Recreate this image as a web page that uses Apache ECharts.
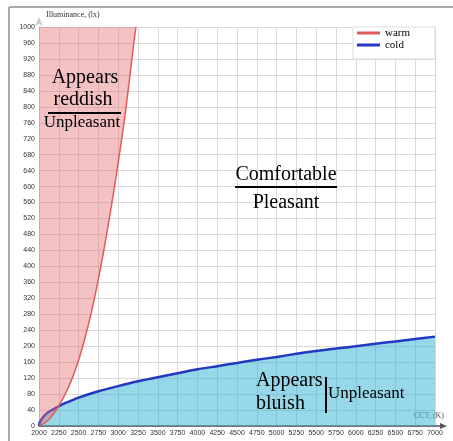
<!DOCTYPE html>
<html>
<head>
<meta charset="utf-8">
<script src="https://cdn.jsdelivr.net/npm/echarts@6/dist/echarts.min.js"></script>
<style>
html, body { margin: 0; padding: 0; background: #fff; }
#chart { width: 453px; height: 441px; }
</style>
</head>
<body>
<div id="chart"></div>
<script>
// values
var warmCct = [2000, 2100, 2200, 2300, 2400, 2500, 2600, 2700, 2800, 2900, 3000, 3100, 3200, 3225];
var warmLux = [0, 12, 35, 68, 110, 165, 235, 320, 420, 535, 660, 800, 965, 1000];

var coldCct = [2000, 2010, 2025, 2050, 2100, 2200, 2300, 2400, 2500, 2750, 3000, 3250, 3500, 3750, 4000,
    4250, 4500, 4750, 5000, 5250, 5500, 5750, 6000, 6250, 6500, 6750, 7000];
var coldLux = [0, 10, 14, 22, 32, 44, 55, 63, 71, 87, 100, 112, 122, 132, 142,
    150, 158, 166, 173, 181, 188, 194, 200, 206, 212, 218, 224];

var seriesNames = ['warm', 'cold'];

function pairs(xs, ys) {
    return xs.map(function (x, i) { return [x, ys[i]]; });
}

var chart = echarts.init(document.getElementById('chart'));
var serif = 'Liberation Serif';
// plain numbers, no thousands separator
var plain = function (v) { return String(v); };

// text labels on the chart
function label(x, y, text, size, align) {
    return {
        type: 'text', x: x, y: y, z: 100,
        style: { text: text, font: size + 'px ' + serif, fill: '#000', textAlign: align || 'center', textVerticalAlign: 'middle' }
    };
}
function rule(x1, y1, x2, y2, color, w) {
    return { type: 'line', z: 100, shape: { x1: x1, y1: y1, x2: x2, y2: y2 }, style: { stroke: color, lineWidth: w } };
}

var option = {
    animation: false,
    grid: { left: 39, right: 18, top: 27, bottom: 15 },
    legend: {
        data: seriesNames,
        orient: 'vertical',
        right: 18,
        top: 27,
        icon: 'rect',
        itemWidth: 23,
        itemHeight: 3,
        itemGap: 0,
        padding: [0, 25, 8, 4],
        backgroundColor: '#fff',
        borderColor: '#ddd',
        borderWidth: 1,
        borderRadius: 0,
        textStyle: { fontFamily: serif, fontSize: 11, color: '#000', lineHeight: 12 }
    },
    xAxis: {
        type: 'value',
        min: 2000,
        max: 7000,
        interval: 250,
        name: 'CCT, (K)',
        nameLocation: 'end',
        nameGap: 9,
        nameTextStyle: { fontFamily: serif, fontSize: 8, color: '#555', align: 'right', verticalAlign: 'bottom', padding: [0, 0, 6, 0] },
        axisLine: { show: true, lineStyle: { color: '#555', width: 1.5 } },
        axisTick: { show: false },
        axisLabel: { fontSize: 7, color: '#333', fontFamily: 'Liberation Sans', margin: 4, formatter: plain },
        splitLine: { show: true, lineStyle: { color: '#d9d9d9', width: 1 } }
    },
    yAxis: {
        type: 'value',
        min: 0,
        max: 1000,
        interval: 40,
        name: 'Illuminance, (lx)',
        nameLocation: 'end',
        nameGap: 12,
        nameTextStyle: { fontFamily: serif, fontSize: 8, color: '#333', align: 'left', verticalAlign: 'middle', padding: [0, 0, 0, 7] },
        axisLine: { show: true, symbol: ['none', 'arrow'], symbolSize: [6, 9], symbolOffset: [0, 10], lineStyle: { color: '#ccc', width: 1 } },
        axisTick: { show: false },
        axisLabel: { fontSize: 7, color: '#333', fontFamily: 'Liberation Sans', margin: 4, formatter: plain },
        splitLine: { show: true, lineStyle: { color: '#d9d9d9', width: 1 } }
    },
    series: [{
        name: 'warm',
        type: 'line',
        data: pairs(warmCct, warmLux),
        smooth: 0.3,
        showSymbol: false,
        color: '#e35a5a',
        lineStyle: { color: '#e35a5a', width: 1.5 },
        areaStyle: { origin: 'end', color: 'rgba(230,110,115,0.42)', opacity: 1 },
        z: 3
    }, {
        name: 'cold',
        type: 'line',
        data: pairs(coldCct, coldLux),
        smooth: 0.3,
        showSymbol: false,
        color: '#2238c0',
        lineStyle: { color: '#2238c0', width: 2.5 },
        areaStyle: { origin: 'start', color: 'rgba(45,178,212,0.5)', opacity: 1 },
        z: 2
    }],
    graphic: [
        // frame
        rule(9, 7, 453, 7, '#aaa', 2),
        rule(9, 7, 9, 441, '#aaa', 2),
        // x axis arrow extension
        rule(435, 426, 442, 426, '#555', 1.5),
        { type: 'polygon', z: 100, shape: { points: [[447, 426], [440, 423], [440, 429]] }, style: { fill: '#555' } },
        // reddish
        label(85, 78, 'Appears', 20),
        label(83, 100, 'reddish', 20),
        rule(48, 113, 121, 113, '#000', 2),
        label(82, 123, 'Unpleasant', 17),
        // comfortable
        label(286, 175, 'Comfortable', 20),
        rule(235, 187, 337, 187, '#000', 2),
        label(286, 203, 'Pleasant', 20),
        // bluish
        label(256, 381, 'Appears', 20, 'left'),
        label(256, 404, 'bluish', 20, 'left'),
        rule(326, 377, 326, 413, '#000', 2),
        label(328, 394, 'Unpleasant', 17, 'left')
    ]
};
chart.setOption(option);
</script>
</body>
</html>
